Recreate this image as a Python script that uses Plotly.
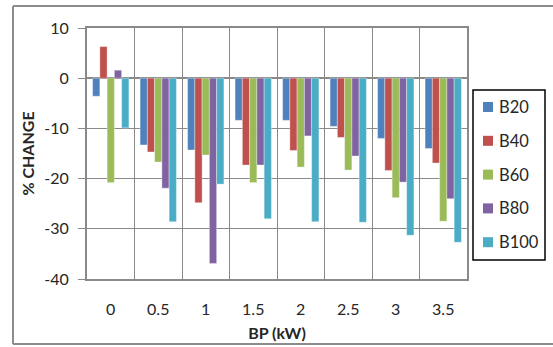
import plotly.graph_objects as go

# Brake power settings (kW) and percentage change per blend
bp_labels = ["0", "0.5", "1", "1.5", "2", "2.5", "3", "3.5"]
b20 = [-3.6, -13.3, -14.3, -8.4, -8.4, -9.6, -12.0, -14.0]
b40 = [6.3, -14.7, -24.8, -17.3, -14.4, -11.8, -18.4, -16.9]
b60 = [-20.8, -16.7, -15.3, -20.8, -17.7, -18.3, -23.8, -28.5]
b80 = [1.6, -21.9, -36.9, -17.3, -11.5, -15.5, -20.7, -24.0]
b100 = [-9.9, -28.6, -21.1, -28.0, -28.6, -28.7, -31.3, -32.7]

# value axis ticks (plain hyphen minus signs)
y_ticks = [10, 0, -10, -20, -30, -40]
y_tick_labels = ["10", "0", "-10", "-20", "-30", "-40"]

series = [
    ("B20", b20, "#4F81BD"),
    ("B40", b40, "#C0504D"),
    ("B60", b60, "#9BBB59"),
    ("B80", b80, "#8064A2"),
    ("B100", b100, "#4BACC6"),
]

fig = go.Figure()
for name, vals, color in series:
    fig.add_trace(go.Bar(
        x=bp_labels, y=vals, name=name,
        marker=dict(color=color, line=dict(color="rgba(255,255,255,0.6)", width=0.6)),
    ))

# plot area geometry in pixels
L, R, T, B = 87, 86, 28, 68
W, H = 553, 347
pw, ph = W - L - R, H - T - B

def px_x(x):
    return (x - L) / pw

def px_y(y):
    return (H - B - y) / ph

grid = "#898989"
txt = "#262626"
frame = "#8c8c8c"

# outer chart frame (open on the right)
shapes = [
    dict(type="line", xref="paper", yref="paper",
         x0=px_x(13), x1=px_x(13), y0=px_y(6), y1=px_y(344),
         line=dict(color=frame, width=2)),
    dict(type="line", xref="paper", yref="paper",
         x0=px_x(13), x1=px_x(556), y0=px_y(6), y1=px_y(6),
         line=dict(color=frame, width=2)),
    dict(type="line", xref="paper", yref="paper",
         x0=px_x(13), x1=px_x(556), y0=px_y(344), y1=px_y(344),
         line=dict(color=frame, width=2)),
]

# legend box with one swatch + label per series
shapes.append(dict(type="rect", xref="paper", yref="paper",
                   x0=px_x(473), x1=px_x(545), y0=px_y(90), y1=px_y(260),
                   line=dict(color="#000000", width=1.5), fillcolor="white",
                   layer="above"))
annotations = []
leg_top, leg_step = 107, 33.8
for i, (name, _, color) in enumerate(series):
    cy = leg_top + i * leg_step
    shapes.append(dict(type="rect", xref="paper", yref="paper",
                       x0=px_x(483), x1=px_x(493), y0=px_y(cy - 5), y1=px_y(cy + 5),
                       line=dict(width=0), fillcolor=color, layer="above"))
    annotations.append(dict(xref="paper", yref="paper", x=px_x(497), y=px_y(cy),
                            xanchor="left", yanchor="middle", showarrow=False,
                            text=name, font=dict(size=16.5, color=txt)))

fig.update_layout(
    width=W, height=H,
    margin=dict(l=L, r=R, t=T, b=B, autoexpand=False),
    paper_bgcolor="white", plot_bgcolor="white",
    font=dict(family="Lato, Open Sans, sans-serif", color=txt),
    barmode="group", bargap=0.235, bargroupgap=0.0,
    showlegend=False,
    shapes=shapes,
    annotations=annotations,
)

fig.update_xaxes(
    type="category", tickson="boundaries",
    showgrid=True, gridcolor=grid, gridwidth=1.3,
    showline=True, linecolor=grid, linewidth=2, mirror=True,
    ticks="", ticklabelstandoff=15, tickfont=dict(size=16, color=txt),
    title=dict(text="<b>BP (kW)</b>", font=dict(size=16, color=txt), standoff=11),
)
fig.update_yaxes(
    range=[-40, 10], tickmode="array", tickvals=y_ticks, ticktext=y_tick_labels,
    showgrid=True, gridcolor=grid, gridwidth=1.3,
    zeroline=True, zerolinecolor=grid, zerolinewidth=1.5,
    showline=True, linecolor=grid, linewidth=2, mirror=True,
    ticks="outside", ticklen=7, tickcolor=grid, tickwidth=1.3,
    ticklabelstandoff=6, tickfont=dict(size=16, color=txt),
    title=dict(text="<b>% CHANGE</b>", font=dict(size=16, color=txt), standoff=6),
)

fig.write_html("out.html")
